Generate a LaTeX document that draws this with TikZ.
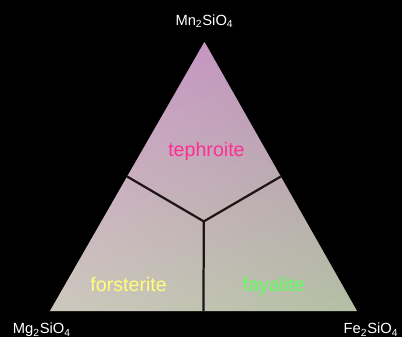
\documentclass[tikz,border=0pt]{standalone}
\usepackage{fontspec}
\setmainfont{Liberation Sans}
\usepackage{tikz}
\usetikzlibrary{calc}
\definecolor{apexpink}{RGB}{204,128,204}
\definecolor{midpink}{RGB}{218,166,208}
\definecolor{basegray}{RGB}{196,198,180}
\definecolor{leftgray}{RGB}{222,206,208}
\definecolor{rightgreen}{RGB}{150,180,136}
\definecolor{tephcol}{RGB}{255,45,150}
\definecolor{forscol}{RGB}{255,255,120}
\definecolor{fayacol}{RGB}{96,255,96}
\definecolor{joincol}{RGB}{30,22,22}
\tikzset{
  endmember/.style = {text=white, font=\fontsize{10.5}{12}\selectfont, anchor=base},
  phase/.style     = {font=\fontsize{14}{16}\selectfont, anchor=base},
  boundary/.style  = {joincol, line width=1.6pt},
}
\begin{document}
\begin{tikzpicture}
  \fill[black] (0,0) rectangle (10.075,8.45);
  \coordinate (mn) at (5.125,7.4);
  \coordinate (mg) at (1.25,0.65);
  \coordinate (fe) at (8.95,0.65);
  \coordinate (c) at (barycentric cs:mn=1,mg=1,fe=1);
  \coordinate (mnmg) at ($(mn)!0.5!(mg)$);
  \coordinate (mnfe) at ($(mn)!0.5!(fe)$);
  \coordinate (mgfe) at ($(mg)!0.5!(fe)$);
  % ternary field
  \begin{scope}
    \clip (mn) -- (mg) -- (fe) -- cycle;
    \shade[top color=apexpink, middle color=midpink, bottom color=basegray]
      (1.25,0.65) rectangle (8.95,7.4);
    \shade[left color=leftgray, right color=rightgreen, opacity=0.35]
      (1.25,0.65) rectangle (8.95,7.4);
  \end{scope}
  \draw[boundary] (c) -- (mnmg);
  \draw[boundary] (c) -- (mnfe);
  \draw[boundary] (c) -- (mgfe);
  % labels
  \node[endmember] (lmn) at (5.125,7.82) {Mn\textsubscript{2}SiO\textsubscript{4}};
  \node[endmember] (lmg) at (1.05,0.08) {Mg\textsubscript{2}SiO\textsubscript{4}};
  \node[endmember] (lfe) at (9.3,0.08) {Fe\textsubscript{2}SiO\textsubscript{4}};
  \node[phase, text=tephcol] (teph) at (5.175,4.53) {tephroite};
  \node[phase, text=forscol] (fors) at (3.225,1.15) {forsterite};
  \node[phase, text=fayacol] (faya) at (6.86,1.15) {fayalite};
\end{tikzpicture}
\end{document}
